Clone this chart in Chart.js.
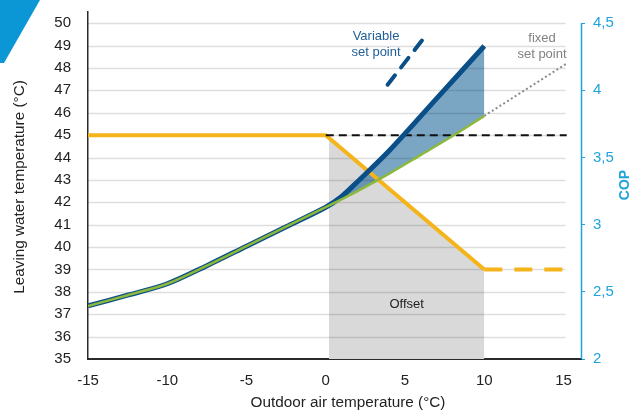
<!DOCTYPE html>
<html>
<head>
<meta charset="utf-8">
<script src="https://cdn.jsdelivr.net/npm/chart.js@4.4.0/dist/chart.umd.min.js"></script>
<style>
  html, body { margin: 0; padding: 0; background: #fff; }
  #wrap { position: relative; width: 629px; height: 410px; }
</style>
</head>
<body>
<div id="wrap"><canvas id="chart"></canvas></div>
<script>
// COP curves (right axis), outdoor temperature in °C
const sharedTemps = [-15, -12.5, -10, -7.5, -5, -2.5, 0];
const sharedCop = [2.395, 2.475, 2.56, 2.695, 2.84, 2.985, 3.13];
const fixedTemps = [2, 4, 6, 8, 10];
const fixedCop = [3.25, 3.38, 3.52, 3.66, 3.81];
const variableTemps = [1, 2, 4, 7, 10];
const variableCop = [3.21, 3.32, 3.55, 3.94, 4.33];
const fixedExtTemps = [10, 15.2];
const fixedExtCop = [3.81, 4.20];

// leaving water temperature (left axis)
const setpointTemps = [-15, 0, 10];
const setpointLwt = [45, 45, 39];
const setpointExtTemps = [10, 15.2];
const setpointExtLwt = [39, 39];
const fixedLineTemps = [0, 15.2];
const fixedLineLwt = [45, 45];
const offsetTemps = [0.2, 10];
const offsetLwt = [44.9, 39];
const legendDashTemps = [3.9, 6.2];
const legendDashLwt = [47.25, 49.35];

// tick labels
const xTicks = [-15, -10, -5, 0, 5, 10, 15];
const lwtTicks = [35, 36, 37, 38, 39, 40, 41, 42, 43, 44, 45, 46, 47, 48, 49, 50];
const copTicks = [2, 2.5, 3, 3.5, 4, 4.5];

const FONT = "'Liberation Sans', Arial, sans-serif";
const DARK_BLUE = '#0b4f88';
const GREEN = '#8cb83c';
const YELLOW = '#f5b41a';
const LIGHT_BLUE = '#1fa3dc';

function pts(xs, ys) {
  return xs.map((x, i) => ({ x: x, y: ys[i] }));
}

// grid lines only over the -15..15 range, drawn above the fills
const gridPlugin = {
  id: 'lwtGrid',
  beforeDatasetsDraw(chart) {
    const { ctx, scales: { x, y } } = chart;
    const x0 = x.getPixelForValue(xTicks[0]);
    const x1 = x.getPixelForValue(xTicks[xTicks.length - 1]) + 2;
    ctx.save();
    ctx.strokeStyle = 'rgba(0,0,0,0.13)';
    ctx.lineWidth = 1.5;
    lwtTicks.slice(1).forEach(v => {
      const py = Math.round(y.getPixelForValue(v)) + 0.5;
      ctx.beginPath();
      ctx.moveTo(x0, py);
      ctx.lineTo(x1, py);
      ctx.stroke();
    });
    ctx.restore();
  }
};

// titles, notes and the corner mark
const decoPlugin = {
  id: 'deco',
  afterDraw(chart) {
    const { ctx, chartArea, scales: { x, y, y1 } } = chart;
    ctx.save();

    ctx.fillStyle = '#0b97d6';
    ctx.beginPath();
    ctx.moveTo(0, 0);
    ctx.lineTo(40, 0);
    ctx.lineTo(4, 63);
    ctx.lineTo(0, 63);
    ctx.closePath();
    ctx.fill();

    // right axis line from 2 to 4,5
    ctx.strokeStyle = LIGHT_BLUE;
    ctx.lineWidth = 1.5;
    ctx.beginPath();
    ctx.moveTo(chartArea.right + 0.5, y1.getPixelForValue(4.5));
    ctx.lineTo(chartArea.right + 0.5, chartArea.bottom);
    ctx.stroke();

    ctx.textAlign = 'center';
    ctx.textBaseline = 'middle';

    ctx.fillStyle = '#222';
    ctx.font = '15.3px ' + FONT;
    ctx.fillText('Outdoor air temperature (°C)', 348, 403);

    ctx.save();
    ctx.translate(20, 187);
    ctx.rotate(-Math.PI / 2);
    ctx.fillText('Leaving water temperature (°C)', 0, 0);
    ctx.restore();

    ctx.save();
    ctx.translate(625, 185);
    ctx.rotate(-Math.PI / 2);
    ctx.fillStyle = LIGHT_BLUE;
    ctx.font = 'bold 14px ' + FONT;
    ctx.fillText('COP', 0, 0);
    ctx.restore();

    ctx.font = '13px ' + FONT;
    ctx.fillStyle = '#222';
    ctx.fillText('Offset', x.getPixelForValue(5.1), y.getPixelForValue(37.46));

    ctx.fillStyle = '#1d5e97';
    ctx.fillText('Variable', x.getPixelForValue(3.17), y.getPixelForValue(49.4));
    ctx.fillText('set point', x.getPixelForValue(3.17), y.getPixelForValue(48.7));

    ctx.fillStyle = '#808080';
    ctx.fillText('fixed', x.getPixelForValue(13.64), y.getPixelForValue(49.3));
    ctx.fillText('set point', x.getPixelForValue(13.64), y.getPixelForValue(48.6));

    ctx.restore();
  }
};

const datasets = [
  {
    // 0: green, fixed set point COP
    data: pts(sharedTemps.concat(fixedTemps), sharedCop.concat(fixedCop)),
    yAxisID: 'y1',
    borderColor: GREEN,
    borderWidth: 2.5,
    tension: 0.3,
    fill: false,
    order: 2
  },
  {
    // 1: dotted continuation of the fixed set point
    data: pts(fixedExtTemps, fixedExtCop),
    yAxisID: 'y1',
    borderColor: '#8a8a8a',
    borderWidth: 2,
    borderDash: [2, 2.5],
    fill: false,
    order: 2
  },
  {
    // 2: dark blue, variable set point COP
    data: pts(sharedTemps.concat(variableTemps), sharedCop.concat(variableCop)),
    yAxisID: 'y1',
    borderColor: DARK_BLUE,
    borderWidth: 5,
    tension: 0.3,
    fill: { target: 0 },
    backgroundColor: 'rgba(13,93,148,0.55)',
    order: 4
  },
  {
    // 3: legend stroke for variable set point
    data: pts(legendDashTemps, legendDashLwt),
    yAxisID: 'y',
    borderColor: DARK_BLUE,
    borderWidth: 4,
    borderDash: [12, 10],
    borderCapStyle: 'round',
    fill: false,
    order: 1
  },
  {
    // 4: fixed set point, black dashed
    data: pts(fixedLineTemps, fixedLineLwt),
    yAxisID: 'y',
    borderColor: '#111',
    borderWidth: 2,
    borderDash: [8, 5],
    fill: false,
    order: 5
  },
  {
    // 5: yellow set point curve
    data: pts(setpointTemps, setpointLwt),
    yAxisID: 'y',
    borderColor: YELLOW,
    borderWidth: 4,
    fill: false,
    order: 6
  },
  {
    // 6: yellow dashed continuation
    data: pts(setpointExtTemps, setpointExtLwt),
    yAxisID: 'y',
    borderColor: YELLOW,
    borderWidth: 4,
    borderDash: [18, 12],
    fill: false,
    order: 6
  },
  {
    // 7: grey offset area
    data: pts(offsetTemps, offsetLwt),
    yAxisID: 'y',
    borderColor: 'rgba(0,0,0,0)',
    borderWidth: 0,
    fill: 'start',
    backgroundColor: '#d9d9d9',
    order: 10
  }
];

function noPad(s) {
  s.paddingTop = 0;
  s.paddingBottom = 0;
}

new Chart(document.getElementById('chart'), {
  type: 'line',
  data: { datasets: datasets },
  plugins: [gridPlugin, decoPlugin],
  options: {
    responsive: true,
    maintainAspectRatio: false,
    animation: false,
    events: [],
    layout: { padding: { top: 12, left: 0, right: 0, bottom: 0 } },
    elements: { point: { radius: 0 }, line: { tension: 0 } },
    plugins: {
      legend: { display: false },
      tooltip: { enabled: false },
      filler: { drawTime: 'beforeDatasetsDraw' }
    },
    scales: {
      x: {
        type: 'linear',
        min: -15,
        max: 16.1,
        afterBuildTicks: s => { s.ticks = xTicks.map(v => ({ value: v })); },
        afterFit: s => { s.height = 51; s.paddingLeft = 0; s.paddingRight = 0; },
        grid: { display: false, drawTicks: false },
        border: { color: '#2a2a2a', width: 2 },
        ticks: {
          color: '#222',
          font: { family: FONT, size: 15 },
          padding: 13,
          maxRotation: 0,
          callback: v => String(v)
        }
      },
      y: {
        position: 'left',
        min: 35,
        max: 50.5,
        afterBuildTicks: s => { s.ticks = lwtTicks.map(v => ({ value: v })); },
        afterFit: s => { s.width = 88; noPad(s); },
        grid: { display: false, drawTicks: false },
        border: { color: '#2a2a2a', width: 1.5 },
        ticks: {
          color: '#222',
          font: { family: FONT, size: 15 },
          padding: 17,
          callback: v => String(v)
        }
      },
      y1: {
        position: 'right',
        min: 2,
        max: 2 + 15.5 / 6,
        afterBuildTicks: s => { s.ticks = copTicks.map(v => ({ value: v })); },
        afterFit: s => { s.width = 48; noPad(s); },
        grid: { drawOnChartArea: false, drawTicks: true, tickLength: 4, color: LIGHT_BLUE, lineWidth: 1 },
        border: { display: false },
        ticks: {
          color: LIGHT_BLUE,
          font: { family: FONT, size: 15 },
          padding: 8,
          callback: v => String(v).replace('.', ',')
        }
      }
    }
  }
});
</script>
</body>
</html>
